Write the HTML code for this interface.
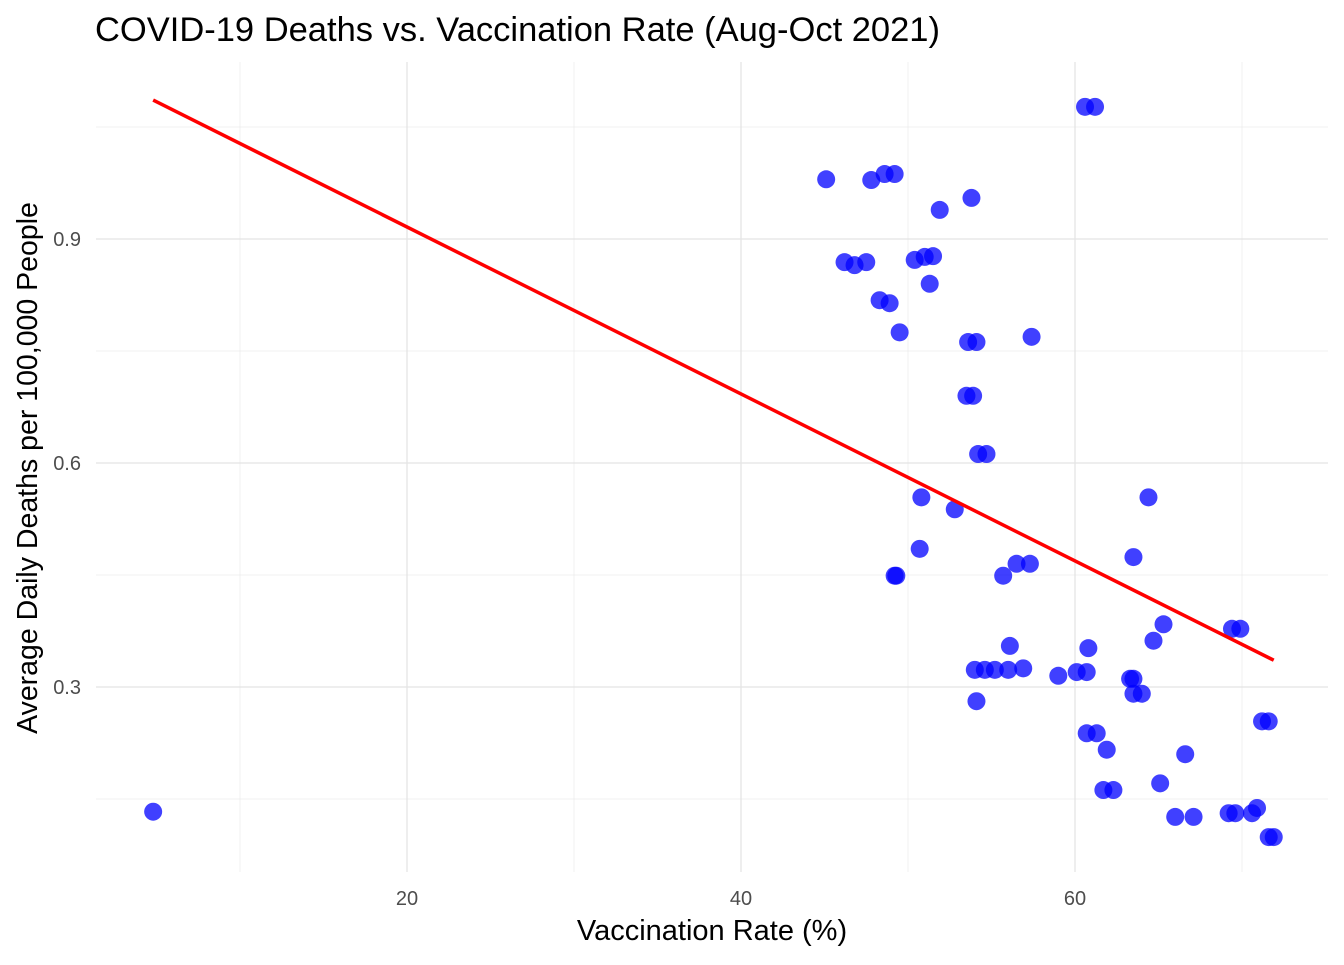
<!DOCTYPE html>
<html><head><meta charset="utf-8"><style>
html,body{margin:0;padding:0;background:#fff;}
svg text{font-family:"Liberation Sans",Arial,sans-serif;}
</style></head><body>
<svg id="chart" width="1344" height="960" xmlns="http://www.w3.org/2000/svg">
<text x="95" y="41" font-size="34.5" fill="#000">COVID-19 Deaths vs. Vaccination Rate (Aug-Oct 2021)</text>
<g id="grid"></g>
<g id="points"></g>
<g id="line"></g>
<g id="axes"></g>
<text x="712" y="940" font-size="29" text-anchor="middle" fill="#000">Vaccination Rate (%)</text>
<text transform="translate(37,468) rotate(-90)" font-size="28.5" text-anchor="middle" fill="#000">Average Daily Deaths per 100,000 People</text>
</svg>
<script>
const xVals=[4.8,45.1,47.8,48.6,49.2,46.2,46.8,47.5,48.3,48.9,49.5,51.9,53.8,50.4,51.0,51.5,51.3,53.6,54.1,57.4,53.5,53.9,54.2,54.7,50.8,52.8,50.7,49.2,49.3,55.7,56.5,57.3,56.1,54.0,54.6,55.2,56.0,56.9,54.1,59.0,60.1,60.7,60.8,60.6,61.2,64.4,63.5,65.3,64.7,63.3,63.5,63.5,64.0,60.7,61.3,61.9,61.7,62.3,65.1,66.6,66.0,67.1,69.4,69.9,69.2,69.6,70.6,70.9,71.2,71.6,71.6,71.9];
const yVals=[0.133,0.980,0.979,0.987,0.987,0.869,0.865,0.869,0.818,0.814,0.775,0.939,0.955,0.872,0.876,0.877,0.840,0.762,0.762,0.769,0.690,0.690,0.612,0.612,0.554,0.538,0.485,0.449,0.449,0.449,0.465,0.465,0.355,0.323,0.323,0.323,0.323,0.325,0.281,0.315,0.320,0.320,0.352,1.077,1.077,0.554,0.474,0.384,0.362,0.311,0.311,0.291,0.291,0.238,0.238,0.216,0.162,0.162,0.171,0.210,0.126,0.126,0.378,0.378,0.131,0.131,0.131,0.138,0.254,0.254,0.099,0.099];
const fitIntercept=[1.1397];
const fitSlope=[-0.01118];
const xTicks=[20,40,60];
const xMinor=[10,30,50,70];
const yTicks=[0.3,0.6,0.9];
const yMinor=[0.15,0.45,0.75,1.05];
const NS="http://www.w3.org/2000/svg";
const X=v=>73+v*16.7;
const Y=v=>463-(v-0.6)*746.67;
const L=96,R=1328,T=62,B=872;
function mk(tag,attrs,parent){const e=document.createElementNS(NS,tag);for(const k in attrs)e.setAttribute(k,attrs[k]);parent.appendChild(e);return e;}
const grid=document.getElementById('grid'),axes=document.getElementById('axes');
xMinor.forEach(v=>{const l=mk('line',{x1:X(v),x2:X(v),y1:T,y2:B,stroke:'#ebebeb','stroke-width':0.7},grid);

});
yMinor.forEach(v=>{const l=mk('line',{x1:L,x2:R,y1:Y(v),y2:Y(v),stroke:'#ebebeb','stroke-width':0.7},grid);

});
xTicks.forEach(v=>{const l=mk('line',{x1:X(v),x2:X(v),y1:T,y2:B,stroke:'#e4e4e4','stroke-width':1.3},grid);


const t=mk('text',{x:X(v),y:905,'font-size':20,'text-anchor':'middle',fill:'#4d4d4d'},axes);t.textContent=v;

});
yTicks.forEach(v=>{const l=mk('line',{x1:L,x2:R,y1:Y(v),y2:Y(v),stroke:'#e4e4e4','stroke-width':1.3},grid);


const t=mk('text',{x:81,y:Y(v)+7,'font-size':20,'text-anchor':'end',fill:'#4d4d4d'},axes);t.textContent=v.toFixed(1);

});
const pts=document.getElementById('points');
xVals.forEach((x,i)=>{const c=mk('circle',{cx:X(x),cy:Y(yVals[i]),r:9,fill:'#0000ff','fill-opacity':0.75},pts);

});
const x0=Math.min(...xVals),x1=Math.max(...xVals);
const f=x=>fitIntercept[0]+fitSlope[0]*x;
const ln=mk('line',{x1:X(x0),y1:Y(f(x0)),x2:X(x1),y2:Y(f(x1)),stroke:'#ff0000','stroke-width':3.5},document.getElementById('line'));


</script>
</body></html>
